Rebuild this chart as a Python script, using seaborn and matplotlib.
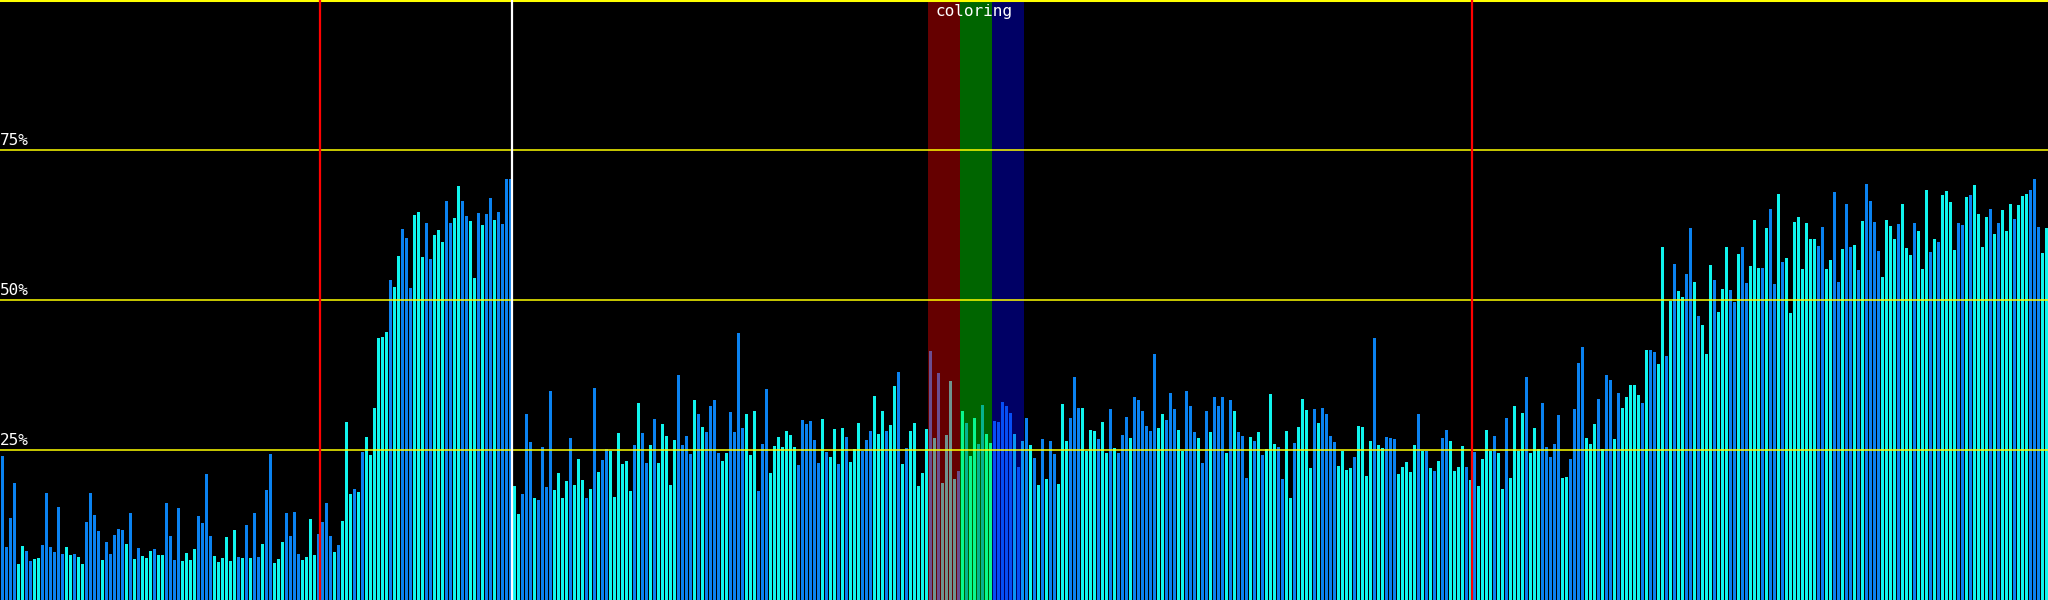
import matplotlib
matplotlib.use('Agg')
import matplotlib.pyplot as plt
import seaborn as sns
import pandas as pd

# bar heights in percent (512 bars, left to right)
low_start = [
    24.0, 8.8, 13.7, 19.5, 6.0, 9.0, 8.2, 6.5, 6.8, 7.0,
    9.2, 17.8, 8.8, 8.0, 15.5, 7.7, 8.8, 7.5, 7.7, 7.2,
    6.0, 13.0, 17.8, 14.2, 11.5, 6.7, 9.7, 7.7, 10.8, 11.8,
    11.7, 9.3, 14.5, 6.8, 8.7, 7.3, 7.0, 8.2, 8.5, 7.5,
    7.5, 16.2, 10.7, 6.7, 15.3, 6.5, 7.8, 6.7, 8.5, 14.0,
    12.8, 21.0, 10.7, 7.3, 6.3, 7.0, 10.5, 6.5, 11.7, 7.2,
    7.0, 12.5, 7.0, 14.5, 7.2, 9.3, 18.3, 24.3, 6.2, 6.8,
    9.7, 14.5, 10.7, 14.7, 7.7, 6.7, 7.2, 13.5, 7.5, 11.0,
    13.0, 16.2, 10.7, 8.0, 9.2,
]
first_ramp = [
    13.2, 29.7, 17.7, 18.5, 18.0,
    24.7, 27.2, 24.2, 32.0, 43.7, 43.8, 44.7, 53.3, 52.2, 57.3,
    61.8, 60.3, 52.0, 64.2, 64.7, 57.2, 62.8, 56.8, 60.8, 61.7,
    59.7, 66.5, 62.8, 63.7, 69.0, 66.5, 64.0, 63.2, 53.7, 64.5,
    62.5, 64.3, 67.0, 63.3, 64.7, 62.7, 70.2, 70.2, 19.0, 14.3,
    17.7, 31.0, 26.3, 17.0, 16.7, 25.5, 18.8, 34.8, 18.3, 21.2,
]
middle_a = [
    17.0, 19.8, 27.0, 19.2, 23.5, 20.0, 17.0, 18.5, 35.3, 21.3,
    23.3, 25.2, 24.8, 17.2, 27.8, 22.7, 23.2, 18.2, 25.8, 32.8,
    27.8, 22.8, 25.8, 30.2, 22.8, 29.3, 27.3, 19.2, 26.7, 37.5,
    25.8, 27.3, 24.3, 33.3, 31.0, 28.8, 28.0, 32.3, 33.3, 24.5,
    23.2, 24.5, 31.3, 28.0, 44.5, 28.7, 31.0, 24.2, 31.5, 18.2,
    26.0, 35.2, 21.2, 25.7, 27.2, 25.5, 28.2, 27.5, 25.5, 22.5,
    30.0, 29.3, 29.8, 26.7, 22.8, 30.2, 24.7, 23.8, 28.5, 22.7,
    28.7, 27.2, 23.0, 25.2, 29.5, 24.8, 26.7, 28.2, 34.0, 27.7,
]
middle_b = [
    31.5, 28.2, 29.2, 35.7, 38.0, 22.7, 25.3, 28.2, 29.5, 19.0,
    21.2, 28.5, 41.5, 27.0, 37.8, 19.5, 27.5, 36.5, 20.2, 21.5,
    31.5, 29.5, 24.0, 30.3, 26.0, 32.5, 27.7, 26.2, 29.8, 29.7,
    33.0, 32.3, 31.2, 27.7, 22.2, 26.5, 30.3, 25.8, 23.7, 19.2,
    26.8, 20.2, 26.5, 24.3, 19.3, 32.7, 26.5, 30.3, 37.2, 32.0,
]
middle_c = [
    32.0, 24.8, 28.3, 28.2, 26.8, 29.7, 24.5, 31.8, 25.3, 24.5,
    27.5, 30.5, 27.0, 33.8, 33.3, 31.5, 29.0, 28.2, 41.0, 28.7,
    31.0, 30.0, 34.5, 31.8, 28.3, 24.8, 34.8, 32.3, 28.0, 27.0,
    22.8, 31.5, 28.0, 33.8, 32.3, 33.8, 24.5, 33.3, 31.5, 28.0,
    27.3, 20.3, 27.2, 26.5, 28.0, 24.2, 25.2, 34.3, 26.0, 25.5,
    20.2, 28.2, 17.0, 26.2, 28.8, 33.5, 31.7, 22.0, 31.8, 29.5,
    32.0, 31.0, 27.3, 26.3, 22.3, 24.8, 21.7, 22.0, 23.8, 29.0,
    28.8, 20.7, 26.5, 43.7, 25.8, 25.3, 27.2, 27.0, 26.8, 21.0,
    22.2, 23.0, 21.3, 25.8, 31.0, 24.8, 24.8, 22.0, 21.5, 23.2,
]
middle_d = [
    27.0, 28.3, 26.5, 21.5, 22.2, 25.7, 22.2, 20.0, 24.7, 19.0,
    23.5, 28.3, 24.8, 27.3, 24.5, 18.5, 30.3, 20.3, 32.3, 24.8,
    31.2, 37.2, 24.5, 28.7, 25.2, 32.8, 25.5, 23.8, 26.0, 30.8,
    20.3, 20.5, 23.5, 31.8, 39.5, 42.2, 27.0, 26.0, 29.3, 33.5,
]
second_ramp = [
    25.2, 37.5, 36.7, 26.8, 34.5, 32.0, 33.8, 35.8, 35.8, 34.2,
    32.8, 41.7, 41.7, 41.3, 39.3, 58.8, 40.7, 49.8, 56.0, 51.5,
    50.5, 54.3, 62.0, 53.0, 47.3, 45.8, 41.0, 55.8, 53.3, 48.0,
    51.8, 58.8, 51.7, 49.7, 57.7, 58.8, 52.8, 55.7, 63.3, 55.3,
    55.3, 62.0, 65.2, 52.7, 67.7, 56.3, 57.0, 47.8, 63.0, 63.8,
    55.2, 62.8, 60.2, 60.2, 59.0, 62.2, 55.2, 56.7, 68.0, 53.0,
    58.5, 66.0, 58.8, 59.2, 55.0, 63.2, 69.3, 66.5, 63.0, 58.2,
    53.8, 63.3, 62.3, 60.2, 62.7,
]
high_end = [
    66.0, 58.7, 57.5, 62.8, 61.5, 55.2, 68.3, 58.0, 60.2, 59.7,
    67.5, 68.2, 66.3, 58.3, 62.8, 62.5, 67.2, 67.5, 69.2, 64.3,
    58.8, 63.8, 65.2, 61.0, 62.8, 65.0, 61.5, 66.0, 63.5, 65.8,
    67.3, 67.7, 68.3, 70.2, 62.2, 57.8, 62.0,
]

# bar shade per bar: B = blue, C = cyan
shades = (
    "BBBBCCBBCC" "BBBBBBCCBC" "CBBBBCBBBB" "BCBCBCCCBC" "CBBBBCCCCB"
    "BBBCCCCCCB" "CBCBBCBBCC" "CBBBBCCCCB" "BBBCB"
    "CCCBC" "BCCCCCCBCC" "BBBCCCBBCC" "CBBCCBBCCB" "CBBCBBBBCC" "BBBCBBBBCC"
    "CCBCCCBCBC" "BBCCCCCCBC" "BBCBCCCCCB" "BBBCBCBBBB" "CCBBBBCCCB"
    "BBCCCCCCCB" "BBBBBCBCCB" "CBCCCBBBCC"
    "CBCCBCBCCC" "CCBCBCCCCB" "CBCCBBCCBB" "BBBCBCBCBC" "BCBBCCCBBB"
    "CCCCBCCBCB" "BBCBBBBBBC" "CBBBCCBBBC" "BBCBBBCBCB" "BBCBCBCCCB"
    "BCCBCCCCBC" "BBBBCCCCBC" "CCCBCCBBBC" "CCCCBCBCBC"
    "BBCCCCBCBC" "CCCBCCBCCC" "CBCCCBBBBB" "CCBBBBCCCB"
    "CBBCBCCCCC" "BCBBCCBCBC" "CBBCBCCCBC" "CCBBCBBCCC" "BCBBCBCCCC"
    "CCCCBBCCBB" "CBBCBCBBBB" "CCCCB"
    "CCCBCCCBCB" "CCCCBBCBCC" "CCBCBCCCBC" "CCBBBCC"
)

pct = low_start + first_ramp + middle_a + middle_b + middle_c + middle_d + second_ramp + high_end
shade = list(shades)

grid_levels = [25, 50, 75]
grid_labels = ['25%', '50%', '75%']
red_markers = [79.5, 367.5]
white_markers = [127.5]
bands = [(231.5, 239.5, 'red'), (239.5, 247.5, 'lime'), (247.5, 255.5, 'blue')]
band_title = 'coloring'

df = pd.DataFrame({'idx': range(len(pct)), 'pct': pct, 'shade': shade})

fig = plt.figure(figsize=(20.48, 6), dpi=100, facecolor='black')
ax = fig.add_axes([0, 0, 1, 1])
ax.set_facecolor('black')

sns.barplot(data=df, x='idx', y='pct', hue='shade', dodge=False,
            palette={'B': '#0A82F0', 'C': '#10F5EE'}, width=0.75,
            saturation=1, errorbar=None, legend=False, linewidth=0, ax=ax)

ax.set_xlim(-0.5, len(pct) - 0.5)
ax.set_ylim(0, 100)
ax.axis('off')

for lvl, lab in zip(grid_levels, grid_labels):
    ax.axhline(lvl, color='yellow', lw=1.1, zorder=4)
    ax.text(-0.5, lvl + 0.3, lab, color='white', fontsize=11.5,
            family='DejaVu Sans Mono', ha='left', va='bottom', zorder=5)
ax.axhline(100, color='yellow', lw=2.2, zorder=4)

for x0, x1, c in bands:
    ax.axvspan(x0, x1, color=c, alpha=0.4, lw=0, zorder=3)
ax.text(243.0, 99.3, band_title, color='white', fontsize=11.5,
        family='DejaVu Sans Mono', ha='center', va='top', zorder=5)

for x in red_markers:
    ax.axvline(x, color='red', lw=1.6, zorder=4)
for x in white_markers:
    ax.axvline(x, color='white', lw=1.6, zorder=4)

fig.savefig('out.png', dpi=100, facecolor='black')
